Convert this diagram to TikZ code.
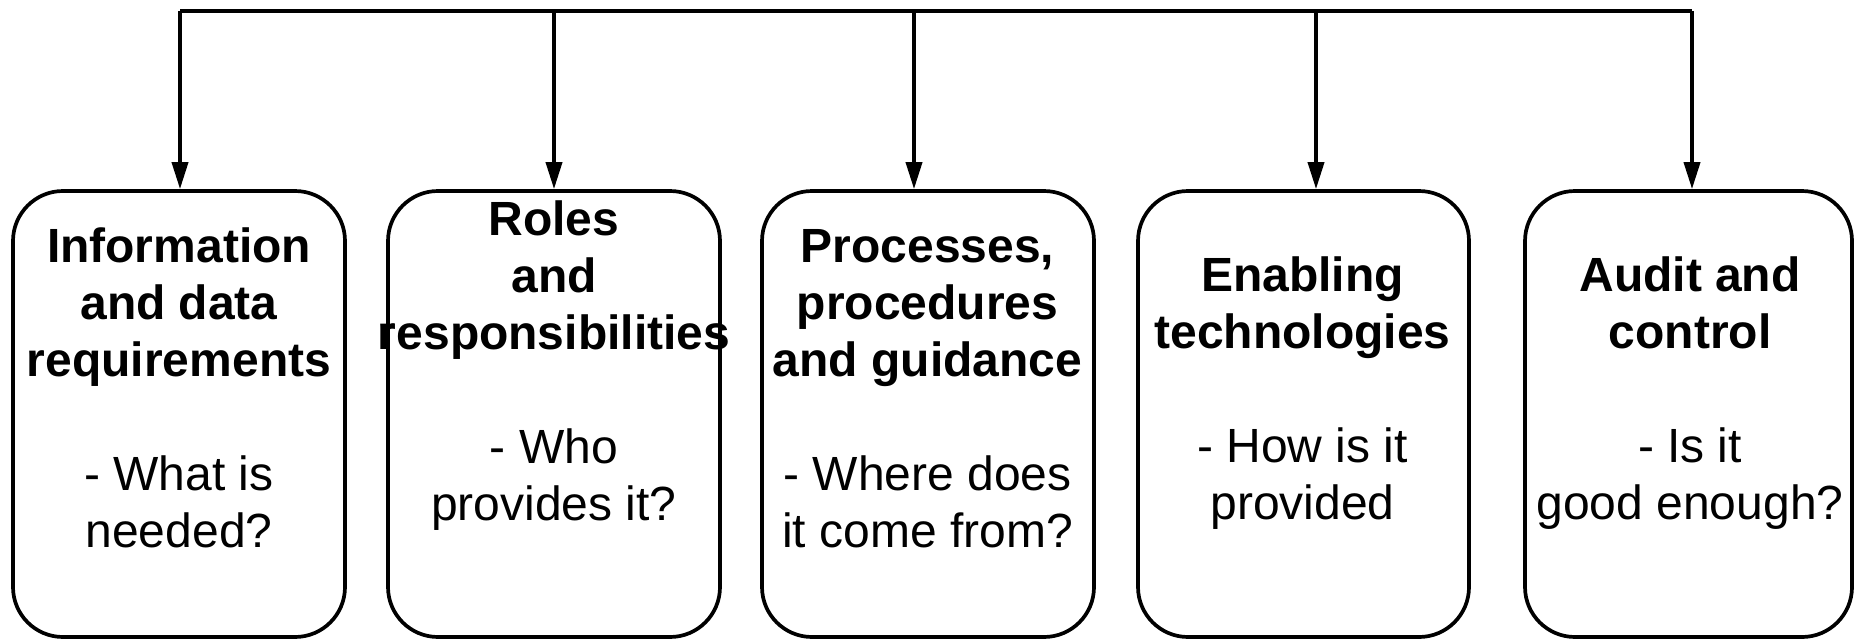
\documentclass[tikz,border=0pt]{standalone}
\usepackage{fontspec}
\setmainfont{Liberation Sans}
\usetikzlibrary{arrows.meta}
\newcommand\boldln[1]{{\bfseries #1}}
\tikzset{
  x=1pt,y=-1pt,
  boxstyle/.style={draw, line width=3.7pt, rounded corners=50pt, minimum height=446pt, inner sep=0pt},
  txt/.style={align=center, anchor=base, inner sep=0pt, font=\fontsize{48pt}{57pt}\selectfont},
  conn/.style={line width=3.7pt},
  arr/.style={line width=3.7pt, -{Triangle[length=27pt,width=16pt]}}
}
\begin{document}
\begin{tikzpicture}
\useasboundingbox (0,0) rectangle (1854,640);
\node[boxstyle, minimum width=332pt] (b1) at (179,414) {};
\node[boxstyle, minimum width=332pt] (b2) at (554,414) {};
\node[boxstyle, minimum width=332pt] (b3) at (928,414) {};
\node[boxstyle, minimum width=331pt] (b4) at (1303.5,414) {};
\node[boxstyle, minimum width=327pt] (b5) at (1688.5,414) {};

\node[txt] (l1) at (179,547) {\boldln{Information}\\\boldln{and data}\\\boldln{requirements}\\[57pt]- What is\\needed?};
\node[txt] (l2) at (554,520.5) {\boldln{Roles}\\\boldln{and}\\\boldln{responsibilities}\\[57pt]- Who\\provides it?};
\node[txt] (l3) at (927.5,547) {\boldln{Processes,}\\\boldln{procedures}\\\boldln{and guidance}\\[57pt]- Where does\\it come from?};
\node[txt] (l4) at (1302.5,519.5) {\boldln{Enabling}\\\boldln{technologies}\\[57pt]- How is it\\provided};
\node[txt] (l5) at (1690,519.5) {\boldln{Audit and}\\\boldln{control}\\[57pt]- Is it\\good enough?};

\coordinate (t1) at (180,11);
\coordinate (t2) at (554,11);
\coordinate (t3) at (914,11);
\coordinate (t4) at (1316,11);
\coordinate (t5) at (1692,11);
\draw[conn] (t1) -- (t5);
\draw[arr] (t1) -- (t1 |- b1.north);
\draw[arr] (t2) -- (t2 |- b2.north);
\draw[arr] (t3) -- (t3 |- b3.north);
\draw[arr] (t4) -- (t4 |- b4.north);
\draw[arr] (t5) -- (t5 |- b5.north);
\end{tikzpicture}
\end{document}
